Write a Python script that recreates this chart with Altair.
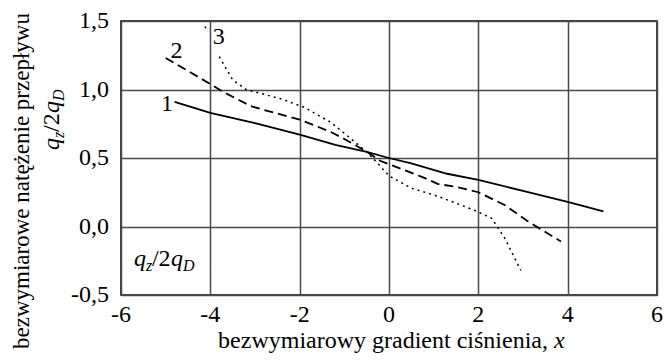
import altair as alt
import pandas as pd

# ---- data ----
line1_x = [-4.8, -4.0, -3.0, -2.0, -1.2, -0.5, 0.0, 0.5, 1.3, 2.0, 3.0, 4.0, 4.8]
line1_y = [0.91, 0.83, 0.755, 0.67, 0.595, 0.545, 0.50, 0.46, 0.385, 0.34, 0.26, 0.18, 0.11]

line2_x = [-5.0, -4.0, -3.7, -3.1, -2.9, -2.0, -1.3, -0.95, -0.5, -0.2, 0.2, 0.75, 1.1, 1.5, 2.0, 2.6, 3.1, 3.85]
line2_y = [1.23, 1.04, 0.98, 0.88, 0.86, 0.78, 0.69, 0.63, 0.545, 0.48, 0.43, 0.36, 0.31, 0.29, 0.25, 0.155, 0.04, -0.11]

line3a_x = [-4.12, -4.06]
line3a_y = [1.46, 1.42]
line3b_x = [-3.8, -3.5, -3.2, -2.4, -1.9, -1.3, -0.85, -0.5, -0.25, 0.0, 0.5, 1.1, 1.9, 2.3, 2.6, 2.95]
line3b_y = [1.24, 1.07, 1.0, 0.93, 0.87, 0.76, 0.64, 0.545, 0.46, 0.37, 0.28, 0.22, 0.12, 0.06, -0.09, -0.32]

x_ticks = [-6, -4, -2, 0, 2, 4, 6]
x_tick_labels = ["-6", "-4", "-2", "0", "2", "4", "6"]
y_ticks = [-0.5, 0.0, 0.5, 1.0, 1.5]
y_tick_labels = ["-0,5", "0,0", "0,5", "1,0", "1,5"]

curve_labels = ["1", "2", "3"]
curve_label_x = [-4.97, -4.76, -3.81]
curve_label_y = [0.896, 1.282, 1.384]

y_title = "bezwymiarowe natężenie przepływu"
x_title = "bezwymiarowy gradient ciśnienia,"
x_title_var = "x"

FONT = "Liberation Serif"
FS = 24
SUB = 16
W, H = 536, 274

xs = alt.Scale(domain=[-6, 6], nice=False, zero=False)
ys = alt.Scale(domain=[-0.5, 1.5], nice=False, zero=False)

x_axis = alt.Axis(values=x_ticks, title=None, grid=True, domain=False, ticks=False, labels=False)
y_axis = alt.Axis(values=y_ticks, title=None, grid=True, domain=False, ticks=False, labels=False)


def line_layer(xv, yv, dash, width):
    df = pd.DataFrame({"x": xv, "y": yv})
    kw = dict(color="black", strokeWidth=width, clip=False)
    if dash:
        kw["strokeDash"] = dash
    return alt.Chart(df).mark_line(**kw).encode(
        x=alt.X("x:Q", scale=xs, axis=x_axis),
        y=alt.Y("y:Q", scale=ys, axis=y_axis),
        order=alt.Order("x:Q"),
    )


def data_text(text, x, y, size=FS, style="normal", align="center", baseline="middle", dx=0, dy=0):
    df = pd.DataFrame({"x": [x], "y": [y], "t": [text]})
    return alt.Chart(df).mark_text(font=FONT, fontSize=size, fontStyle=style, align=align,
                                   baseline=baseline, dx=dx, dy=dy, color="black").encode(
        x=alt.X("x:Q", scale=xs, axis=x_axis), y=alt.Y("y:Q", scale=ys, axis=y_axis), text="t:N")


def px_text(text, px, py, size=FS, style="normal", align="left", baseline="alphabetic", angle=0, dx=0, dy=0):
    df = pd.DataFrame({"t": [text]})
    kw = dict(font=FONT, fontSize=size, fontStyle=style, align=align, baseline=baseline,
              dx=dx, dy=dy, color="black")
    if angle:
        kw["angle"] = angle
    return alt.Chart(df).mark_text(**kw).encode(x=alt.value(px), y=alt.value(py), text="t:N")


layers = [
    line_layer(line1_x, line1_y, None, 1.8),
    line_layer(line2_x, line2_y, [9, 5], 1.8),
    line_layer(line3a_x, line3a_y, [2, 4], 1.5),
    line_layer(line3b_x, line3b_y, [2, 4], 1.5),
]

# tick labels (serif), placed by the shared scales
xt = pd.DataFrame({"v": x_ticks, "t": x_tick_labels})
layers.append(alt.Chart(xt).mark_text(font=FONT, fontSize=FS, align="center", baseline="alphabetic",
                                      color="black").encode(
    x=alt.X("v:Q", scale=xs, axis=x_axis), y=alt.value(H + 27), text="t:N"))
yt = pd.DataFrame({"v": y_ticks, "t": y_tick_labels})
layers.append(alt.Chart(yt).mark_text(font=FONT, fontSize=FS, align="right", baseline="middle",
                                      color="black").encode(
    y=alt.Y("v:Q", scale=ys, axis=y_axis), x=alt.value(-12), text="t:N"))

for t, lx, ly in zip(curve_labels, curve_label_x, curve_label_y):
    layers.append(data_text(t, lx, ly))

# q_z/2q_D inside the plot
qx, qy = -5.71, -0.29
layers += [
    data_text("q", qx, qy, style="italic", align="left", baseline="alphabetic"),
    data_text("z", qx, qy, size=SUB, style="italic", align="left", baseline="alphabetic", dx=12, dy=5),
    data_text("/2", qx, qy, align="left", baseline="alphabetic", dx=18),
    data_text("q", qx, qy, style="italic", align="left", baseline="alphabetic", dx=37),
    data_text("D", qx, qy, size=SUB, style="italic", align="left", baseline="alphabetic", dx=49, dy=5),
]

# y title (two lines, rotated)
layers.append(px_text(y_title, -92, 160, size=23, align="center", angle=270))
ax, ay = -62, 129
layers += [
    px_text("q", ax, ay, style="italic", angle=270),
    px_text("z", ax, ay, size=SUB, style="italic", angle=270, dx=12, dy=5),
    px_text("/2", ax, ay, angle=270, dx=18),
    px_text("q", ax, ay, style="italic", angle=270, dx=37),
    px_text("D", ax, ay, size=SUB, style="italic", angle=270, dx=49, dy=5),
]

# x title
layers.append(px_text(x_title, 427, 327, align="right"))
layers.append(px_text(x_title_var, 433, 327, style="italic", align="left"))

chart = alt.layer(*layers).properties(
    width=W, height=H,
    autosize=alt.AutoSizeParams(type="none"),
    padding={"left": 113, "top": 13, "right": 6, "bottom": 59},
).configure(background="white", font=FONT).configure_view(
    stroke="black", strokeWidth=1.5
).configure_axis(
    gridColor="#4a4a4a", gridWidth=1.5, gridOpacity=1
)

chart.save("out.html", embed_options={"renderer": "svg", "actions": False})
